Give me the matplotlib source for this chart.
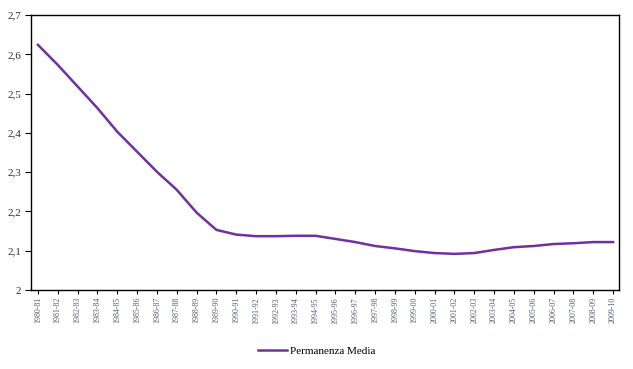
import matplotlib
matplotlib.use("Agg")
import matplotlib.pyplot as plt

# values
periods = [f"{y}-{str(y + 1)[2:]}" for y in range(1980, 2010)]
permanenza_media = [
    2.624, 2.573, 2.518, 2.463, 2.403, 2.352, 2.301, 2.255, 2.197, 2.153,
    2.141, 2.137, 2.137, 2.138, 2.138, 2.130, 2.122, 2.112, 2.106, 2.099,
    2.094, 2.092, 2.094, 2.102, 2.109, 2.112, 2.117, 2.119, 2.122, 2.122,
]
y_ticks = [2.0, 2.1, 2.2, 2.3, 2.4, 2.5, 2.6, 2.7]
y_labels = ["2", "2,1", "2,2", "2,3", "2,4", "2,5", "2,6", "2,7"]

plt.rcParams["font.family"] = ["Liberation Serif", "DejaVu Serif"]

fig = plt.figure(figsize=(6.33, 3.69), dpi=100)
ax = fig.add_axes([31 / 633, 1 - 290 / 369, 588 / 633, 275 / 369])

x = list(range(len(periods)))
line, = ax.plot(x, permanenza_media, color="#7030A0", linewidth=1.8,
                solid_joinstyle="round", label="Permanenza Media")

ax.set_xlim(-0.35, len(periods) - 0.7)
ax.set_ylim(2.0, 2.7)
ax.set_yticks(y_ticks)
ax.set_yticklabels(y_labels, fontsize=8, color="#333333")
ax.set_xticks(x)
ax.set_xticklabels(periods, rotation=90, fontsize=5.8, color="#556070")
ax.tick_params(axis="x", length=3, pad=2, width=0.8)
ax.tick_params(axis="y", length=4, pad=3, width=0.8)

for side in ax.spines.values():
    side.set_linewidth(1.0)
    side.set_color("black")

fig.legend(handles=[line], loc="center", bbox_to_anchor=(0.5, 1 - 351 / 369),
           frameon=False, fontsize=8, handlelength=2.6, handletextpad=0.3)

fig.savefig("out.png", dpi=100)
